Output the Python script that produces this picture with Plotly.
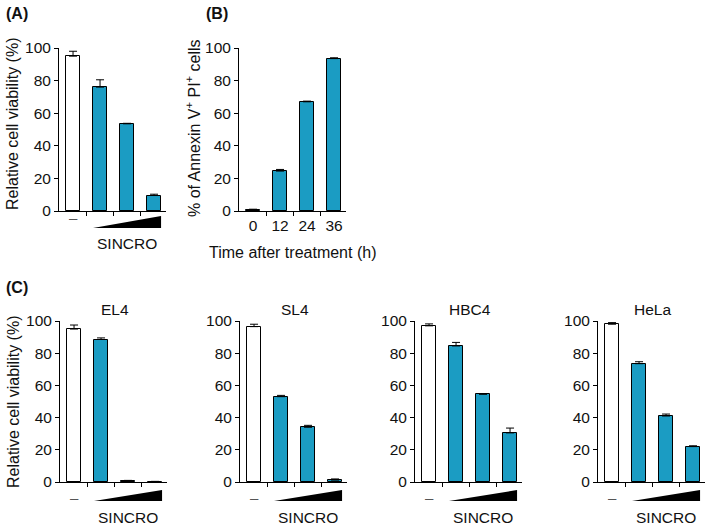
import plotly.graph_objects as go

W, H = 709, 525
TEAL = "#1B9CC3"
FONT = "Liberation Sans, Arial, sans-serif"

# (A) viability after SINCRO
A_VALUES = [95, 76, 53.5, 9.5]
A_ERRORS = [3, 4.5, 0.3, 0.8]

# (B) Annexin V+ PI+ over time
B_TIME_LABELS = ["0", "12", "24", "36"]
B_VALUES = [0.8, 24.5, 67, 93.5]
B_ERRORS = [0.3, 1.0, 0.4, 0.5]

# (C) cell lines
C_LINES = ["EL4", "SL4", "HBC4", "HeLa"]
EL4_VALUES = [95, 88.5, 0.8, 0.3]
EL4_ERRORS = [2.5, 1.0, 0.2, 0.1]
SL4_VALUES = [96.5, 53, 34, 1.2]
SL4_ERRORS = [1.5, 0.8, 1.2, 0.7]
HBC4_VALUES = [97, 84.5, 54.5, 30.5]
HBC4_ERRORS = [1.2, 2.2, 0.3, 3.0]
HELA_VALUES = [98, 73.5, 41, 22]
HELA_ERRORS = [1.0, 1.2, 1.2, 0.5]

Y_TICKS = [0, 20, 40, 60, 80, 100]
DOSE_COLORS = ["white", TEAL, TEAL, TEAL]
TIME_COLORS = [TEAL, TEAL, TEAL, TEAL]

SPACING = 27  # px per category
X_RANGE = [-0.52, 3.45]
TICK_SIZE = 15.5


def fx(x):
    return x / W


def fy(y):
    return 1 - y / H


fig = go.Figure()
layout = {}
shapes = []
annotations = []


def add_panel(n, left, top, bottom, values, errors, colors, ticklabels=None,
              sincro=True, title=None, tri=(5, 17), dash_y=6, sincro_y=32):
    xname = "x" if n == 1 else f"x{n}"
    yname = "y" if n == 1 else f"y{n}"
    fig.add_trace(go.Bar(
        x=list(range(len(values))),
        y=values,
        xaxis=xname,
        yaxis=yname,
        width=0.52,
        marker=dict(color=colors, line=dict(color="black", width=1)),
        error_y=dict(type="data", array=errors, arrayminus=[0] * len(errors),
                     symmetric=False, color="black", thickness=1, width=4),
        showlegend=False,
        hoverinfo="skip",
    ))
    right = left + SPACING * (X_RANGE[1] - X_RANGE[0])
    xaxis = dict(
        domain=[fx(left), fx(right)],
        range=X_RANGE,
        anchor=yname,
        automargin=False,
        showline=True, linecolor="black", linewidth=1,
        ticks="",
        showgrid=False, zeroline=False,
        tickfont=dict(size=TICK_SIZE, color="#111"),
        minor=dict(tickmode="array", tickvals=[0.5, 1.5, 2.5], ticks="outside",
                   ticklen=4, tickcolor="black", tickwidth=1, showgrid=False),
    )
    if ticklabels:
        xaxis.update(tickvals=[0, 1, 2, 3], ticktext=ticklabels)
    else:
        xaxis.update(tickvals=[0, 1, 2, 3], showticklabels=False)
    layout["xaxis" if n == 1 else f"xaxis{n}"] = xaxis
    layout["yaxis" if n == 1 else f"yaxis{n}"] = dict(
        domain=[fy(bottom), fy(top)],
        range=[0, 100],
        anchor=xname,
        automargin=False,
        tickvals=Y_TICKS,
        ticks="outside", ticklen=4, tickcolor="black",
        showline=True, linecolor="black", linewidth=1,
        showgrid=False, zeroline=False,
        tickfont=dict(size=TICK_SIZE, color="#111"),
    )
    if sincro:
        shapes.append(dict(
            type="path", xref=xname, yref="paper",
            path=(f"M 0.74,{fy(bottom + tri[1])} L 3.26,{fy(bottom + tri[1])} "
                  f"L 3.26,{fy(bottom + tri[0])} Z"),
            fillcolor="black", line=dict(width=0),
        ))
        annotations.append(dict(x=0, y=fy(bottom + dash_y), xref=xname, yref="paper",
                                xanchor="center", yanchor="middle",
                                text="–", showarrow=False, font=dict(size=15, color="#555")))
        annotations.append(dict(x=2, y=fy(bottom + sincro_y), xref=xname, yref="paper",
                                xanchor="center", yanchor="middle",
                                text="SINCRO", showarrow=False,
                                font=dict(size=15.5, color="#111")))
    if title:
        annotations.append(dict(x=1.5, y=fy(top - 1), xref=xname, yref="paper",
                                text=title, showarrow=False, xanchor="center", yanchor="bottom",
                                font=dict(size=15.5, color="#111")))


add_panel(1, 59, 48, 211, A_VALUES, A_ERRORS, DOSE_COLORS)
add_panel(2, 239, 48, 211, B_VALUES, B_ERRORS, TIME_COLORS,
          ticklabels=B_TIME_LABELS, sincro=False)

c_values = [EL4_VALUES, SL4_VALUES, HBC4_VALUES, HELA_VALUES]
c_errors = [EL4_ERRORS, SL4_ERRORS, HBC4_ERRORS, HELA_ERRORS]
c_left = [60, 240, 415, 598]
for i, name in enumerate(C_LINES):
    add_panel(3 + i, c_left[i], 321, 482, c_values[i], c_errors[i], DOSE_COLORS,
              title=name, tri=(8, 19), dash_y=15, sincro_y=35)


def paper_text(x, y, text, size=16, angle=0, xanchor="center"):
    return dict(x=fx(x), y=fy(y), xref="paper", yref="paper", text=text,
                textangle=angle, showarrow=False, xanchor=xanchor, yanchor="middle",
                font=dict(size=size, color="#111"))


# axis titles and panel labels
annotations += [
    paper_text(13, 124, "Relative cell viability (%)", angle=-90),
    paper_text(193, 128, "% of Annexin V<sup>+</sup> PI<sup>+</sup> cells", angle=-90),
    paper_text(292, 252, "Time after treatment (h)"),
    paper_text(13, 402, "Relative cell viability (%)", angle=-90),
    paper_text(4, 13, "<b>(A)</b>", xanchor="left"),
    paper_text(204, 13, "<b>(B)</b>", xanchor="left"),
    paper_text(4, 287, "<b>(C)</b>", xanchor="left"),
]

fig.update_layout(
    **layout,
    width=W, height=H,
    margin=dict(l=0, r=0, t=0, b=0),
    paper_bgcolor="white", plot_bgcolor="white",
    font=dict(family=FONT, color="#111"),
    bargap=0,
    shapes=shapes,
    annotations=annotations,
)

fig.write_html("out.html", config={"displayModeBar": False},
               post_script="document.body.style.margin = '0';")
